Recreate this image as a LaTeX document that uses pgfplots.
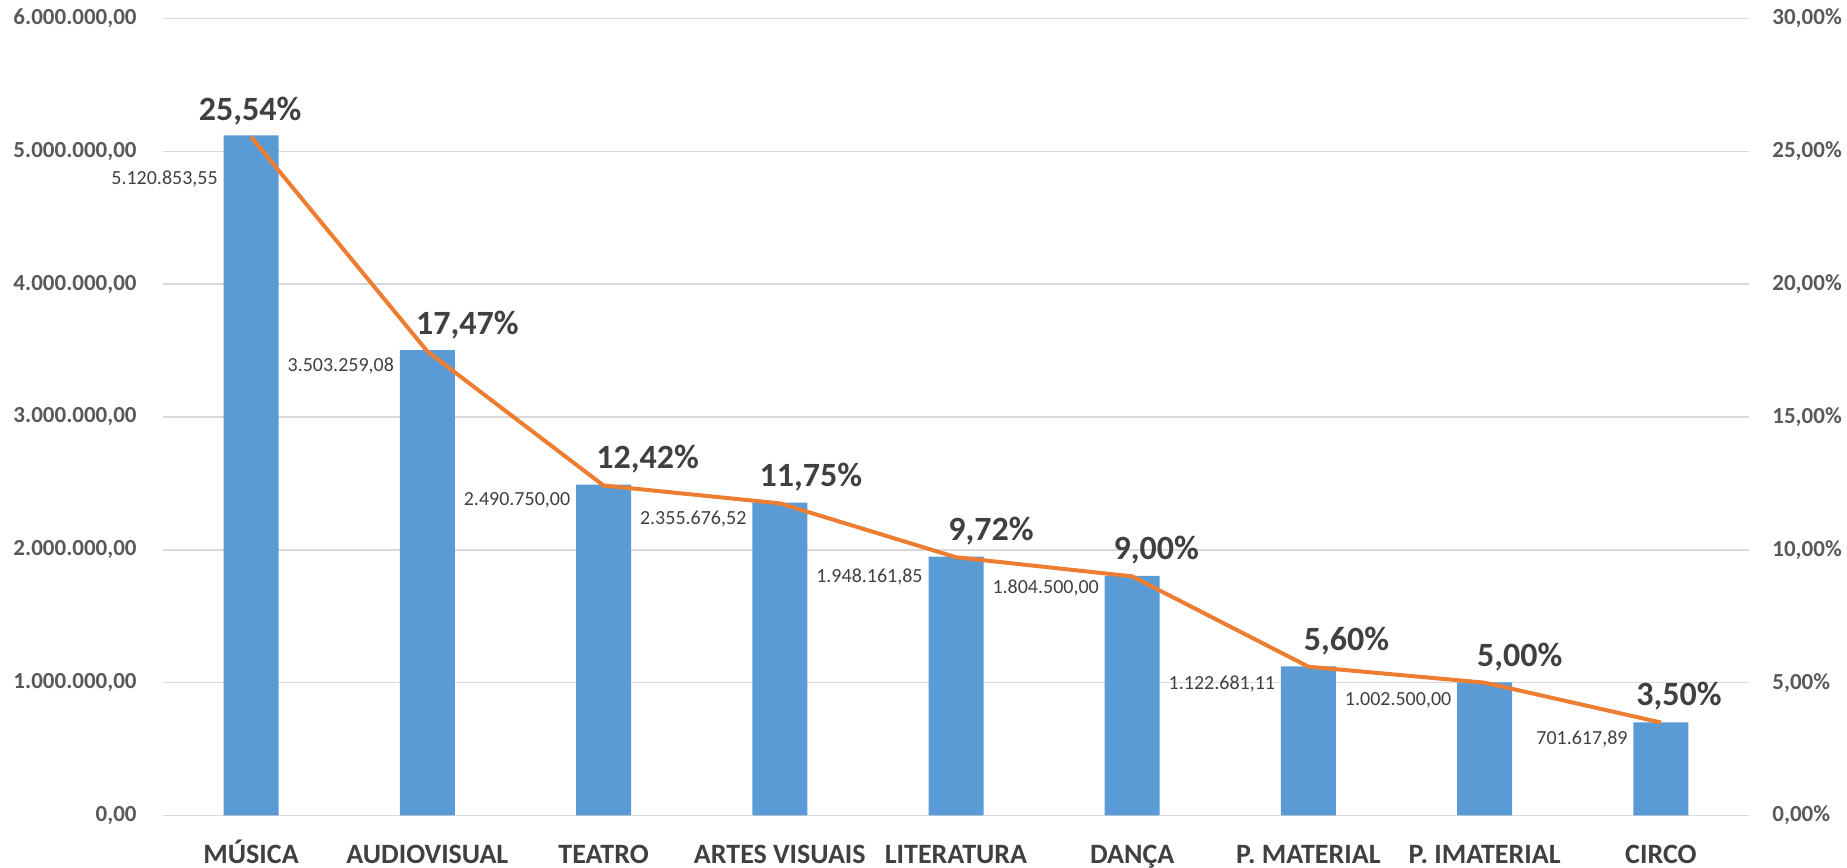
\documentclass[border=0pt]{standalone}
\usepackage{pgfplots}
\usepackage{pgfplotstable}
\pgfplotsset{compat=1.18}
\usepackage{fontspec}
\setmainfont{Carlito}
\definecolor{barblue}{HTML}{5B9BD5}
\definecolor{lineorange}{HTML}{ED7D31}
\definecolor{gridgray}{HTML}{D9D9D9}
\definecolor{tickgray}{HTML}{595959}
\definecolor{txtgray}{HTML}{404040}

\pgfplotstableread{
x y vlabel vdy pct plabel pdx
0 5120853.55 5.120.853,55 -22 25.54 25,54 -0.5
1 3503259.08 3.503.259,08 -7.7 17.47 17,47 20
2 2490750.00 2.490.750,00 -7.7 12.42 12,42 22
3 2355676.52 2.355.676,52 -8.2 11.75 11,75 15.5
4 1948161.85 1.948.161,85 -10 9.72 9,72 17.5
5 1804500.00 1.804.500,00 -5.9 9.00 9,00 12
6 1122681.11 1.122.681,11 -8.8 5.60 5,60 19
7 1002500.00 1.002.500,00 -8.8 5.00 5,00 17.5
8 701617.89 701.617,89 -8.2 3.50 3,50 9
}\data

\begin{document}
\begin{tikzpicture}
\begin{axis}[
  name=ax,
  scale only axis, width=793pt, height=398.5pt,
  xmin=-0.5, xmax=8.5, ymin=0, ymax=6000000,
  clip=false,
  axis line style={draw=none},
  major tick length=0pt,
  xtick={0,1,2,3,4,5,6,7,8},
  xticklabels={MÚSICA, AUDIOVISUAL, TEATRO, ARTES VISUAIS, LITERATURA, DANÇA, P. MATERIAL, P. IMATERIAL, CIRCO},
  xticklabel style={font=\bfseries\fontsize{14}{16}\selectfont, text=txtgray, anchor=base, inner sep=0pt, yshift=-24pt},
  ytick={0,1000000,2000000,3000000,4000000,5000000,6000000},
  yticklabels={{0,00},{1.000.000,00},{2.000.000,00},{3.000.000,00},{4.000.000,00},{5.000.000,00},{6.000.000,00}},
  scaled y ticks=false,
  yticklabel style={font=\bfseries\fontsize{11.5}{13}\selectfont, text=tickgray, anchor=east, inner sep=0pt, xshift=-13pt},
  ymajorgrids,
  major grid style={draw=gridgray, line width=0.8pt},
]
\addplot[ybar, bar width=27.5pt, fill=barblue, draw=none,
  point meta=explicit symbolic,
  visualization depends on={\thisrow{vdy} \as \vdy},
  nodes near coords={\pgfplotspointmeta},
  every node near coord/.append style={font=\fontsize{10}{12}\selectfont, text=txtgray, anchor=east, inner sep=0pt, xshift=-16.5pt, yshift=\vdy pt},
] table[x=x, y=y, meta=vlabel] {\data};
\end{axis}
\begin{axis}[
  scale only axis, width=793pt, height=398.5pt,
  xmin=-0.5, xmax=8.5, ymin=0, ymax=30,
  clip=false,
  hide x axis,
  axis y line*=right,
  axis line style={draw=none},
  major tick length=0pt,
  ytick={0,5,10,15,20,25,30},
  yticklabels={{0,00\%},{5,00\%},{10,00\%},{15,00\%},{20,00\%},{25,00\%},{30,00\%}},
  yticklabel style={font=\bfseries\fontsize{11.5}{13}\selectfont, text=tickgray, anchor=west, inner sep=0pt, xshift=11.5pt},
]
\addplot[color=lineorange, line width=2pt, no marks,
  point meta=explicit symbolic,
  visualization depends on={\thisrow{pdx} \as \pdx},
  nodes near coords={\pgfplotspointmeta\%},
  every node near coord/.append style={font=\bfseries\fontsize{17}{20}\selectfont, text=txtgray, anchor=center, inner sep=0pt, xshift=\pdx pt, yshift=13pt},
] table[x=x, y=pct, meta=plabel] {\data};
\end{axis}
\pgfresetboundingbox
\path ([xshift=-81.5pt,yshift=-26pt]ax.south west) rectangle ([xshift=49pt,yshift=9.25pt]ax.north east);
\end{tikzpicture}
\end{document}
